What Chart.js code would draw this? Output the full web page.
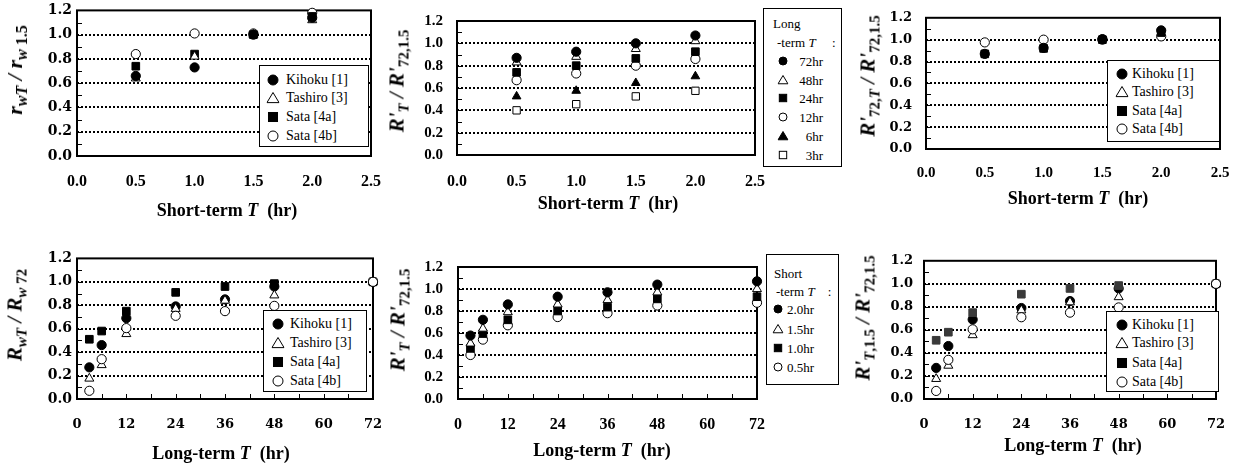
<!DOCTYPE html>
<html><head><meta charset="utf-8">
<script src="https://cdn.jsdelivr.net/npm/chart.js@4.4.1/dist/chart.umd.min.js"></script>
<style>
html,body{margin:0;padding:0;background:#fff;}
#wrap{position:relative;width:1239px;height:471px;overflow:hidden;background:#fff;}
canvas{position:absolute;}
.t{position:absolute;white-space:nowrap;color:#000;font-family:'Liberation Serif','Times New Roman',serif;line-height:1;}
.yt{font-weight:bold;font-style:italic;transform:translate(-50%,-50%) rotate(-90deg);}
.yt sub{font-style:normal;vertical-align:-0.3em;line-height:0;}
.yt sub i{font-style:italic;}
.xt{font-weight:bold;font-size:18px;transform:translate(-50%,-50%);}
.lg{position:absolute;border:1.5px solid #000;background:#fff;box-sizing:border-box;}
.lt{position:absolute;line-height:1;transform:translateY(-50%);white-space:nowrap;font-family:'Liberation Serif','Times New Roman',serif;color:#000;}
.mk{position:absolute;transform:translate(-50%,-50%);line-height:0;}
</style></head>
<body><div id="wrap"></div>
<script>
// ---------------- data ----------------
const shortT = [0.5, 1.0, 1.5, 2.0];
const longT = [3, 6, 12, 24, 36, 48, 72];
const shortTicks = [0.0, 0.5, 1.0, 1.5, 2.0, 2.5];
const longTicks = [0, 12, 24, 36, 48, 60, 72];
const yTicks = [0.0, 0.2, 0.4, 0.6, 0.8, 1.0, 1.2];

const siteLabels = ['Kihoku [1]', 'Tashiro [3]', 'Sata [4a]', 'Sata [4b]'];
const siteMarks = ['fc', 'ot', 'fs', 'oc'];
const longLabels = ['72hr', '48hr', '24hr', '12hr', '6hr', '3hr'];
const longMarks = ['fc', 'ot', 'fs', 'oc', 'ft', 'os'];
const shortLabels = ['2.0hr', '1.5hr', '1.0hr', '0.5hr'];
const shortMarks = ['fc', 'ot', 'fs', 'oc'];

// Panel 1: r_wT / r_w1.5 vs short-term T
const p1Kihoku  = [0.66, 0.73, 1.00, 1.14];
const p1Tashiro = [0.64, 0.82, 1.00, 1.12];
const p1Sata4a  = [0.74, 0.84, 1.00, 1.15];
const p1Sata4b  = [0.84, 1.01, 1.01, 1.18];

// Panel 2: R'_T / R'_72,1.5 vs short-term T (by long-term T)
const p2L72 = [0.87, 0.925, 1.00, 1.07];
const p2L48 = [0.83, 0.88, 0.95, 1.02];
const p2L24 = [0.74, 0.80, 0.865, 0.925];
const p2L12 = [0.67, 0.73, 0.80, 0.86];
const p2L6  = [0.525, 0.575, 0.645, 0.705];
const p2L3  = [0.40, 0.455, 0.525, 0.575];

// Panel 3: R'_72,T / R'_72,1.5 vs short-term T
const p3Kihoku  = [0.87, 0.925, 1.005, 1.085];
const p3Tashiro = [null, null, null, null];
const p3Sata4a  = [0.87, 0.92, 1.00, 1.065];
const p3Sata4b  = [0.975, 1.00, 1.00, 1.03];

// Panels 4 and 6: R_wT / R_w72 and R'_T,1.5 / R'_72,1.5 vs long-term T
const rKihoku  = [0.27, 0.46, 0.69, 0.79, 0.85, 0.96, 1.00];
const rTashiro = [0.175, 0.29, 0.555, 0.77, 0.84, 0.885, 1.00];
const rSata4a  = [0.51, 0.58, 0.75, 0.91, 0.96, 0.985, 1.00];
const rSata4b  = [0.07, 0.34, 0.605, 0.71, 0.75, 0.795, 1.00];

// Panel 5: R'_T / R'_72,1.5 vs long-term T (by short-term T)
const p5S20 = [0.577, 0.72, 0.86, 0.93, 0.97, 1.04, 1.07];
const p5S15 = [0.505, 0.64, 0.79, 0.86, 0.90, 0.97, 1.00];
const p5S10 = [0.46, 0.595, 0.72, 0.80, 0.835, 0.91, 0.93];
const p5S05 = [0.40, 0.54, 0.67, 0.745, 0.78, 0.85, 0.875];

// ---------------- styles ----------------
const STY = {
  fc: {ps: 'circle', fill: true, r: 4.6},
  oc: {ps: 'circle', fill: false, r: 4.6},
  ft: {ps: 'triangle', fill: true, r: 5},
  ot: {ps: 'triangle', fill: false, r: 5.2},
  fs: {ps: 'rect', fill: true, r: 5.4},
  os: {ps: 'rect', fill: false, r: 5.2}
};

function ds(label, xs, ys, mk, color, order) {
  const s = STY[mk];
  const c = color || '#000';
  return {
    label, order,
    data: xs.map((x, i) => ({x, y: ys[i]})).filter(p => p.y !== null),
    pointStyle: s.ps, pointRadius: s.r, pointHoverRadius: s.r,
    backgroundColor: s.fill ? c : '#fff', borderColor: c, borderWidth: 1,
    clip: false, showLine: false
  };
}

const framePlugin = {
  id: 'frame',
  beforeDatasetsDraw(chart, args, opts) {
    const {ctx, chartArea: a, scales} = chart;
    const y = scales.y, x = scales.x;
    ctx.save();
    ctx.strokeStyle = '#000';
    ctx.setLineDash([2, 2]);
    ctx.lineWidth = 2;
    y.ticks.forEach(t => {
      if (t.value < 1e-9 || t.value > y.max - 1e-9) return;
      const py = Math.round(y.getPixelForValue(t.value));
      ctx.beginPath(); ctx.moveTo(a.left, py); ctx.lineTo(a.right, py); ctx.stroke();
    });
    ctx.setLineDash([]);
    ctx.lineWidth = 1;
    for (let k = 1; k < 12; k++) {
      const py = Math.round(y.getPixelForValue(k / 10)) + 0.5;
      ctx.beginPath(); ctx.moveTo(a.left, py); ctx.lineTo(a.left + 5, py); ctx.stroke();
    }
    if (opts.xMinor) {
      for (let v = opts.xMinor; v < x.max - 1e-9; v += opts.xMinor) {
        const px = Math.round(x.getPixelForValue(v)) + 0.5;
        ctx.beginPath(); ctx.moveTo(px, a.bottom); ctx.lineTo(px, a.bottom - 5); ctx.stroke();
      }
    }
    ctx.lineWidth = 2;
    ctx.strokeRect(a.left, a.top, a.right - a.left, a.bottom - a.top);
    ctx.restore();
  }
};

const siteSeries = (k, t, a, b) => [
  [siteLabels[0], longT, k, siteMarks[0]],
  [siteLabels[1], longT, t, siteMarks[1]],
  [siteLabels[2], longT, a, siteMarks[2]],
  [siteLabels[3], longT, b, siteMarks[3]]
];

const panels = [
  { L: 77, R: 371, T: 9, B: 156, xMin: 0, xMax: 2.5, xTicks: shortTicks, xDec: 1,
    xFont: ['Liberation Serif', 16], xPad: 16, yFont: ['DejaVu Serif', 14], yGap: 5, xMinor: 0,
    series: [
      [siteLabels[0], shortT, p1Kihoku, 'fc'], [siteLabels[1], shortT, p1Tashiro, 'ot'],
      [siteLabels[2], shortT, p1Sata4a, 'fs'], [siteLabels[3], shortT, p1Sata4b, 'oc']],
    yTitle: '<i>r</i><sub><i>wT</i></sub> / <i>r</i><sub><i>w</i> 1.5</sub>', yts: [22, 16], ytx: 15, yty: 70,
    xTitle: 'Short-term <i>T</i>&nbsp; (hr)', xtx: 227, xty: 210,
    legend: {box: [259, 65, 110, 82], rows: [80, 98, 117, 136], mx: 273, tx: 286, font: 14, ms: 11,
             labels: siteLabels, marks: siteMarks} },
  { L: 457, R: 755, T: 10, B: 155, xMin: 0, xMax: 2.5, xTicks: shortTicks, xDec: 1,
    xFont: ['Liberation Serif', 16], xPad: 17, yFont: ['Liberation Serif', 15], yGap: 14, xMinor: 0,
    series: [
      [longLabels[0], shortT, p2L72, 'fc'], [longLabels[1], shortT, p2L48, 'ot'],
      [longLabels[2], shortT, p2L24, 'fs'], [longLabels[3], shortT, p2L12, 'oc'],
      [longLabels[4], shortT, p2L6, 'ft'], [longLabels[5], shortT, p2L3, 'os']],
    yTitle: "R'<sub><i>T</i></sub> / R'<sub>72,1.5</sub>", yts: [21, 15], ytx: 397, yty: 81,
    xTitle: 'Short-term <i>T</i>&nbsp; (hr)', xtx: 608, xty: 203,
    legend: {box: [763, 8, 79, 159], head: [['Long', 773, 23], ['-term <i>T</i>&nbsp;&nbsp;&nbsp;&nbsp; :', 777, 42]],
             rows: [61, 80, 98, 117, 136, 155], mx: 783, tx: 823, align: 'right', font: 13, ms: 9,
             labels: longLabels, marks: longMarks} },
  { L: 926, R: 1220, T: 8, B: 149, xMin: 0, xMax: 2.5, xTicks: shortTicks, xDec: 1,
    xFont: ['Liberation Serif', 15], xPad: 15, yFont: ['DejaVu Serif', 13], yGap: 14, xMinor: 0,
    series: [
      [siteLabels[0], shortT, p3Kihoku, 'fc'], [siteLabels[1], shortT, p3Tashiro, 'ot'],
      [siteLabels[2], shortT, p3Sata4a, 'fs'], [siteLabels[3], shortT, p3Sata4b, 'oc']],
    yTitle: "R'<sub>72,<i>T</i></sub> / R'<sub>72,1.5</sub>", yts: [21, 15], ytx: 868, yty: 76,
    xTitle: 'Short-term <i>T</i>&nbsp; (hr)', xtx: 1078, xty: 198,
    legend: {box: [1107, 60, 113, 82], rows: [74, 92, 111, 129], mx: 1122, tx: 1132, font: 14, ms: 11,
             labels: siteLabels, marks: siteMarks} },
  { L: 77, R: 373, T: 257, B: 399, xMin: 0, xMax: 72, xTicks: longTicks, xDec: 0,
    xFont: ['DejaVu Serif', 13], xPad: 18, yFont: ['DejaVu Serif', 14], yGap: 5, xMinor: 6,
    lastOnTop: true,
    series: siteSeries(rKihoku, rTashiro, rSata4a, rSata4b),
    yTitle: 'R<sub><i>wT</i></sub> / R<sub><i>w</i> 72</sub>', yts: [21, 15], ytx: 15, yty: 315,
    xTitle: 'Long-term <i>T</i>&nbsp; (hr)', xtx: 221, xty: 453,
    legend: {box: [263, 310, 104, 82], rows: [324, 343, 362, 381], mx: 278, tx: 290, font: 14, ms: 11,
             labels: siteLabels, marks: siteMarks} },
  { L: 458, R: 757, T: 255, B: 399, xMin: 0, xMax: 72, xTicks: longTicks, xDec: 0,
    xFont: ['Liberation Serif', 16], xPad: 16, yFont: ['Liberation Serif', 15], yGap: 15, xMinor: 6,
    series: [
      [shortLabels[0], longT, p5S20, 'fc'], [shortLabels[1], longT, p5S15, 'ot'],
      [shortLabels[2], longT, p5S10, 'fs'], [shortLabels[3], longT, p5S05, 'oc']],
    yTitle: "R'<sub><i>T</i></sub> / R'<sub>72,1.5</sub>", yts: [21, 15], ytx: 398, yty: 320,
    xTitle: 'Long-term <i>T</i>&nbsp; (hr)', xtx: 602, xty: 450,
    legend: {box: [766, 254, 73, 131], head: [['Short', 774, 273], ['-term <i>T</i>&nbsp;&nbsp;&nbsp; :', 776, 291]],
             rows: [309, 329, 348, 367], mx: 778, tx: 787, font: 13, ms: 9,
             labels: shortLabels, marks: shortMarks} },
  { L: 924, R: 1216, T: 254, B: 399, xMin: 0, xMax: 72, xTicks: longTicks, xDec: 0,
    xFont: ['DejaVu Serif', 13], xPad: 18, yFont: ['DejaVu Serif', 13], yGap: 11, xMinor: 6,
    lastOnTop: true,
    series: siteSeries(rKihoku, rTashiro, rSata4a, rSata4b),
    sata4aColor: '#3a3a3a',
    yTitle: "R'<sub><i>T</i>,1.5</sub> / R'<sub>72,1.5</sub>", yts: [21, 15], ytx: 863, yty: 318,
    xTitle: 'Long-term <i>T</i>&nbsp; (hr)', xtx: 1073, xty: 445,
    legend: {box: [1106, 311, 113, 81], rows: [325, 343, 363, 382], mx: 1122, tx: 1132, font: 14, ms: 11,
             labels: siteLabels, marks: siteMarks} }
];

function svgMarker(mk, s) {
  const fill = mk[0] === 'f' ? '#000' : '#fff';
  const w = s + 2, c = w / 2;
  let shape;
  if (mk[1] === 'c') {
    shape = `<circle cx="${c}" cy="${c}" r="${s / 2 - 0.5}" fill="${fill}" stroke="#000" stroke-width="1"/>`;
  } else if (mk[1] === 's') {
    const q = s * 0.82;
    shape = `<rect x="${c - q / 2}" y="${c - q / 2}" width="${q}" height="${q}" fill="${fill}" stroke="#000" stroke-width="1"/>`;
  } else {
    const hw = s * 0.55;
    shape = `<polygon points="${c},${c - s * 0.5} ${c + hw},${c + s * 0.42} ${c - hw},${c + s * 0.42}" fill="${fill}" stroke="#000" stroke-width="1"/>`;
  }
  return `<svg width="${w}" height="${w}" xmlns="http://www.w3.org/2000/svg">${shape}</svg>`;
}

const wrap = document.getElementById('wrap');
function addDiv(cls, html, x, y, style) {
  const d = document.createElement('div');
  d.className = cls; d.innerHTML = html;
  d.style.left = x + 'px'; d.style.top = y + 'px';
  if (style) Object.assign(d.style, style);
  wrap.appendChild(d);
  return d;
}

panels.forEach(p => {
  const padL = 70, padT = 12, padR = 30, padB = 50;
  const W = p.R - p.L + padL + padR, H = p.B - p.T + padT + padB;
  const cv = document.createElement('canvas');
  cv.width = W; cv.height = H;
  cv.style.left = (p.L - padL) + 'px'; cv.style.top = (p.T - padT) + 'px';
  cv.style.width = W + 'px'; cv.style.height = H + 'px';
  wrap.appendChild(cv);
  const n = p.series.length;
  const datasets = p.series.map((s, i) => ds(s[0], s[1], s[2], s[3],
    (i === 2 && p.sata4aColor) ? p.sata4aColor : null,
    p.lastOnTop ? n - i : i));
  new Chart(cv, {
    type: 'scatter',
    data: {datasets},
    options: {
      responsive: false, animation: false, devicePixelRatio: 1, events: [],
      layout: {padding: {left: 0, top: padT, right: padR, bottom: 0}},
      plugins: {legend: {display: false}, tooltip: {enabled: false}, frame: {xMinor: p.xMinor}},
      scales: {
        x: {
          type: 'linear', position: 'bottom', min: p.xMin, max: p.xMax,
          afterFit: s => { s.height = padB; },
          afterBuildTicks: s => { s.ticks = p.xTicks.map(v => ({value: v})); },
          grid: {display: false, drawTicks: false}, border: {display: false},
          ticks: {padding: p.xPad, color: '#000', autoSkip: false, maxRotation: 0,
                  font: {family: p.xFont[0], size: p.xFont[1], weight: 'bold'},
                  callback: v => Number(v).toFixed(p.xDec)}
        },
        y: {
          type: 'linear', position: 'left', min: 0, max: 1.2,
          afterFit: s => { s.width = padL; },
          afterBuildTicks: s => { s.ticks = yTicks.map(v => ({value: v})); },
          grid: {display: false, drawTicks: false}, border: {display: false},
          ticks: {padding: p.yGap, color: '#000', autoSkip: false,
                  font: {family: p.yFont[0], size: p.yFont[1], weight: 'bold'},
                  callback: v => Number(v).toFixed(1)}
        }
      }
    },
    plugins: [framePlugin]
  });

  const yt = addDiv('t yt', p.yTitle, p.ytx, p.yty, {fontSize: p.yts[0] + 'px'});
  yt.querySelectorAll('sub').forEach(s => { s.style.fontSize = p.yts[1] + 'px'; });
  addDiv('t xt', p.xTitle, p.xtx, p.xty);

  const lg = p.legend;
  const box = document.createElement('div');
  box.className = 'lg';
  Object.assign(box.style, {left: lg.box[0] + 'px', top: lg.box[1] + 'px', width: lg.box[2] + 'px', height: lg.box[3] + 'px'});
  wrap.appendChild(box);
  (lg.head || []).forEach(h => {
    addDiv('lt', h[0], h[1], h[2], {fontSize: lg.font + 'px'});
  });
  lg.labels.forEach((lab, i) => {
    addDiv('mk', svgMarker(lg.marks[i], lg.ms), lg.mx, lg.rows[i]);
    const d = addDiv('lt', lab, lg.tx, lg.rows[i], {fontSize: lg.font + 'px'});
    if (lg.align === 'right') d.style.transform = 'translate(-100%,-50%)';
  });
});
</script></body></html>
